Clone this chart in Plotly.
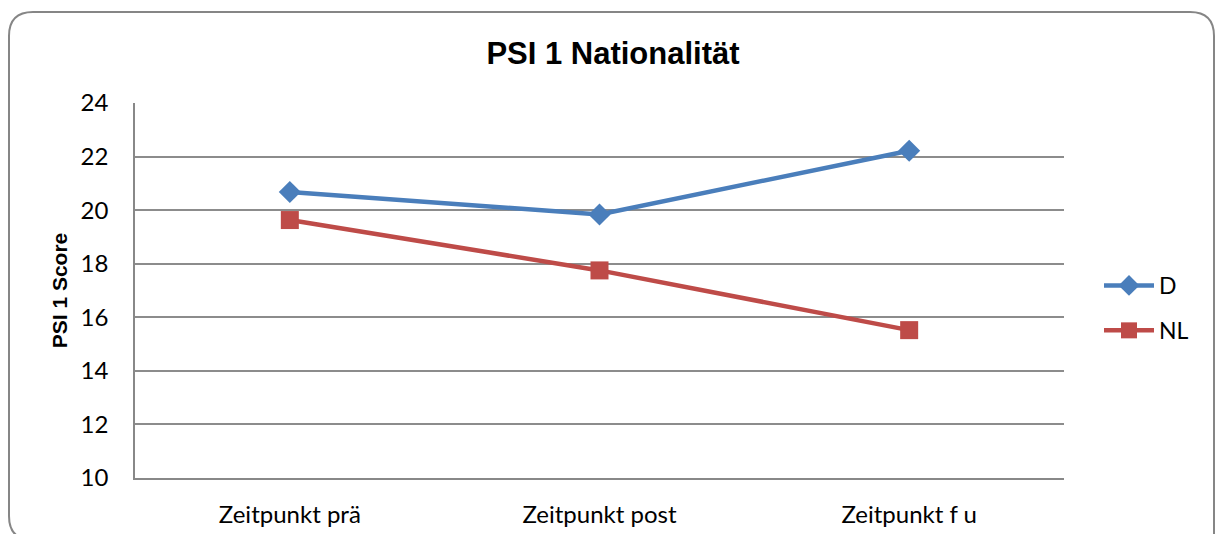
import plotly.graph_objects as go

categories = ["Zeitpunkt prä", "Zeitpunkt post", "Zeitpunkt f u"]
d_values = [20.68, 19.84, 22.22]
nl_values = [19.63, 17.75, 15.52]
y_ticks = [10, 12, 14, 16, 18, 20, 22, 24]

W, H = 1215, 534
L, R, T, B = 135, 151, 103, 56
pw, ph = W - L - R, H - T - B

fig = go.Figure()
fig.add_trace(go.Scatter(
    x=categories, y=d_values, name="D", mode="lines+markers", legendgroup="d",
    line=dict(color="#4A7EBB", width=4.5),
    marker=dict(symbol="diamond", size=17, color="#4A7EBB"),
))
fig.add_trace(go.Scatter(
    x=categories, y=nl_values, name="NL", mode="lines+markers", legendgroup="nl",
    line=dict(color="#BE4B48", width=4.5),
    marker=dict(symbol="square", size=18, color="#BE4B48"),
))


def px_x(px):
    return (px - L) / pw


def px_y(py):
    return (H - B - py) / ph


# rounded outer frame of the chart
x0, x1 = px_x(9), px_x(1214)
y0, y1 = px_y(540), px_y(12)
rx, ry = 24 / pw, 24 / ph
frame = (
    f"M {x0 + rx},{y0} Q {x0},{y0} {x0},{y0 + ry} "
    f"L {x0},{y1 - ry} Q {x0},{y1} {x0 + rx},{y1} "
    f"L {x1 - rx},{y1} Q {x1},{y1} {x1},{y1 - ry} L {x1},{y0}"
)
fig.add_shape(type="path", path=frame, xref="paper", yref="paper",
              line=dict(color="#868686", width=2), layer="below")

fig.update_layout(
    width=W, height=H,
    margin=dict(l=L, r=R, t=T, b=B),
    paper_bgcolor="white", plot_bgcolor="white",
    title=dict(text="<b>PSI 1 Nationalität</b>", x=613 / W, xanchor="center",
               y=1 - 53 / H, yanchor="middle",
               font=dict(family="Liberation Sans, Arial", size=31, color="black")),
    font=dict(family="Lato, Open Sans, sans-serif", size=24, color="black"),
    showlegend=True,
    legend=dict(x=px_x(1099), y=px_y(264), xanchor="left", yanchor="top",
                font=dict(family="Lato, sans-serif", size=23, color="black"),
                tracegroupgap=12, itemwidth=50, bgcolor="rgba(0,0,0,0)"),
    xaxis=dict(type="category", range=[-0.5, 2.5], showgrid=False,
               showline=True, linecolor="#888888", linewidth=1.5,
               ticks="", tickfont=dict(size=24), ticklabelstandoff=14,
               automargin=False),
    yaxis=dict(range=[10, 24], tickvals=y_ticks, showgrid=True,
               gridcolor="#8c8c8c", gridwidth=1.5,
               showline=True, linecolor="#888888", linewidth=1.5,
               ticks="", tickfont=dict(size=24), zeroline=False,
               ticklabelstandoff=20, automargin=False,
               title=dict(text="<b>PSI 1 Score</b>",
                          font=dict(family="Liberation Sans, Arial", size=21),
                          standoff=7)),
)

fig.write_html("out.html")
